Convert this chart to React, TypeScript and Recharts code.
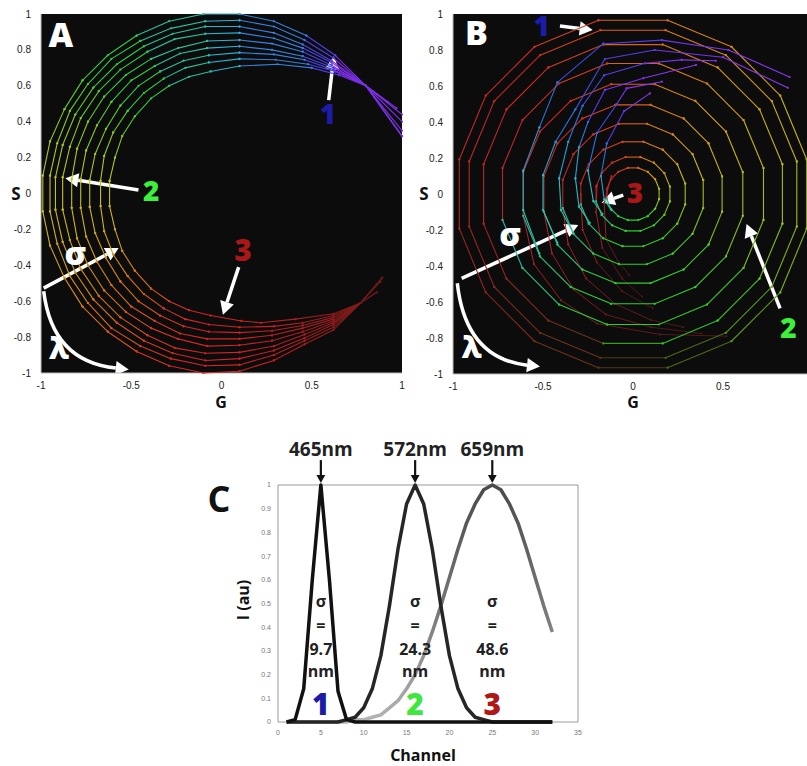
import React from "react";
import {
  ScatterChart,
  Scatter,
  LineChart,
  Line,
  XAxis,
  YAxis,
  CartesianGrid,
  ReferenceLine,
  ReferenceDot,
  ReferenceArea,
} from "recharts";

type Pt = [number, number];

const SANS = "'Open Sans', 'DejaVu Sans', sans-serif";
const TICK_FONT = "'Liberation Sans', Arial, sans-serif";

// ---------- Panel A: phasor (G, S) of each sigma as lambda sweeps; outer ring = narrowest ----------
const ringA1: Pt[] = [
  [0.92, 0.51], [0.8, 0.6], [0.63, 0.77], [0.47, 0.88], [0.29, 0.96], [0.1, 1.0],
  [-0.1, 1.0], [-0.29, 0.96], [-0.47, 0.88], [-0.63, 0.77], [-0.77, 0.63], [-0.87, 0.47], [-0.95, 0.29], [-0.99, 0.1],
  [-0.99, -0.1], [-0.95, -0.29], [-0.87, -0.47], [-0.77, -0.63], [-0.63, -0.77], [-0.47, -0.88], [-0.29, -0.96], [-0.1, -1.0],
  [0.1, -0.99], [0.29, -0.93], [0.46, -0.84], [0.62, -0.76], [0.77, -0.61], [0.86, -0.55],
];
const ringA2: Pt[] = [
  [0.97, 0.475], [0.8, 0.6], [0.62, 0.755], [0.46, 0.855], [0.29, 0.93], [0.1, 0.965],
  [-0.09, 0.96], [-0.28, 0.92], [-0.45, 0.85], [-0.61, 0.75], [-0.74, 0.61], [-0.84, 0.46], [-0.91, 0.28], [-0.95, 0.1],
  [-0.95, -0.1], [-0.91, -0.28], [-0.84, -0.46], [-0.74, -0.61], [-0.61, -0.75], [-0.45, -0.85], [-0.28, -0.92], [-0.09, -0.96],
  [0.1, -0.955], [0.29, -0.9], [0.46, -0.82], [0.62, -0.745], [0.77, -0.61], [0.88, -0.49],
];
const ringA3: Pt[] = [
  [1.0, 0.44], [0.8, 0.6], [0.61, 0.74], [0.45, 0.83], [0.29, 0.895], [0.1, 0.93],
  [-0.09, 0.93], [-0.27, 0.89], [-0.43, 0.82], [-0.58, 0.72], [-0.71, 0.59], [-0.81, 0.44], [-0.88, 0.27], [-0.92, 0.09],
  [-0.92, -0.09], [-0.88, -0.27], [-0.81, -0.44], [-0.71, -0.59], [-0.58, -0.72], [-0.43, -0.82], [-0.27, -0.89], [-0.09, -0.93],
  [0.1, -0.92], [0.29, -0.875], [0.46, -0.805], [0.62, -0.73], [0.77, -0.61], [0.89, -0.47],
];
const ringA4: Pt[] = [
  [1.0, 0.4], [0.8, 0.6], [0.61, 0.73], [0.45, 0.81], [0.29, 0.865], [0.1, 0.895],
  [-0.09, 0.89], [-0.26, 0.86], [-0.41, 0.79], [-0.56, 0.69], [-0.68, 0.57], [-0.78, 0.42], [-0.84, 0.26], [-0.88, 0.09],
  [-0.88, -0.09], [-0.84, -0.26], [-0.78, -0.42], [-0.68, -0.57], [-0.56, -0.69], [-0.41, -0.79], [-0.26, -0.86], [-0.09, -0.89],
  [0.1, -0.885], [0.29, -0.85], [0.46, -0.785], [0.62, -0.72], [0.77, -0.61], [0.89, -0.47],
];
const ringA5: Pt[] = [
  [1.0, 0.35], [0.8, 0.6], [0.61, 0.715], [0.45, 0.79], [0.28, 0.835], [0.1, 0.855],
  [-0.08, 0.85], [-0.24, 0.81], [-0.39, 0.75], [-0.53, 0.66], [-0.65, 0.54], [-0.74, 0.4], [-0.8, 0.25], [-0.83, 0.08],
  [-0.83, -0.08], [-0.8, -0.25], [-0.74, -0.4], [-0.65, -0.54], [-0.53, -0.66], [-0.39, -0.75], [-0.24, -0.81], [-0.08, -0.85],
  [0.1, -0.845], [0.28, -0.82], [0.45, -0.77], [0.62, -0.71], [0.77, -0.61], [0.89, -0.47],
];
const ringA6: Pt[] = [
  [1.0, 0.32], [0.8, 0.6], [0.62, 0.7], [0.45, 0.765], [0.28, 0.8], [0.1, 0.82],
  [-0.08, 0.81], [-0.23, 0.78], [-0.37, 0.71], [-0.5, 0.63], [-0.61, 0.51], [-0.69, 0.38], [-0.75, 0.24], [-0.78, 0.08],
  [-0.78, -0.08], [-0.75, -0.24], [-0.69, -0.38], [-0.61, -0.51], [-0.5, -0.63], [-0.37, -0.71], [-0.23, -0.78], [-0.08, -0.81],
  [0.1, -0.81], [0.28, -0.79], [0.45, -0.75], [0.62, -0.7], [0.77, -0.61], [0.89, -0.47],
];
const ringA7: Pt[] = [
  [1.0, 0.32], [0.8, 0.6], [0.62, 0.69], [0.46, 0.745], [0.29, 0.775], [0.1, 0.785],
  [-0.07, 0.77], [-0.21, 0.74], [-0.34, 0.68], [-0.46, 0.6], [-0.56, 0.49], [-0.64, 0.36], [-0.7, 0.22], [-0.73, 0.075],
  [-0.73, -0.075], [-0.7, -0.22], [-0.64, -0.36], [-0.56, -0.49], [-0.46, -0.6], [-0.34, -0.68], [-0.21, -0.74], [-0.07, -0.77],
  [0.1, -0.775], [0.28, -0.765], [0.45, -0.735], [0.62, -0.69], [0.77, -0.61], [0.89, -0.47],
];
const ringA8: Pt[] = [
  [1.0, 0.32], [0.8, 0.6], [0.63, 0.68], [0.48, 0.72], [0.3, 0.745], [0.1, 0.75],
  [-0.07, 0.73], [-0.2, 0.7], [-0.32, 0.64], [-0.43, 0.56], [-0.52, 0.46], [-0.6, 0.34], [-0.65, 0.21], [-0.67, 0.07],
  [-0.67, -0.07], [-0.65, -0.21], [-0.6, -0.34], [-0.52, -0.46], [-0.43, -0.56], [-0.32, -0.64], [-0.2, -0.7], [-0.07, -0.73],
  [0.1, -0.745], [0.29, -0.74], [0.45, -0.72], [0.62, -0.68], [0.77, -0.61], [0.88, -0.49],
];
const ringA9: Pt[] = [
  [1.0, 0.32], [0.8, 0.6], [0.65, 0.66], [0.5, 0.7], [0.31, 0.72], [0.1, 0.71],
  [-0.06, 0.68], [-0.18, 0.65], [-0.29, 0.6], [-0.39, 0.53], [-0.48, 0.43], [-0.55, 0.32], [-0.59, 0.2], [-0.62, 0.07],
  [-0.62, -0.07], [-0.59, -0.2], [-0.55, -0.32], [-0.48, -0.43], [-0.39, -0.53], [-0.29, -0.6], [-0.18, -0.65], [-0.06, -0.68],
  [0.11, -0.71], [0.22, -0.72], [0.41, -0.7], [0.62, -0.67], [0.77, -0.61], [0.86, -0.55],
];
const ringsA = [ringA1, ringA2, ringA3, ringA4, ringA5, ringA6, ringA7, ringA8, ringA9];

// colour of each segment along a ring (blue end -> red end)
const segColorsA = [
  "#7b30e6", "#7b30e6", "#4c42e6", "#3680de", "#3680de", "#2cb4d4", "#2cc09c", "#2cc09c",
  "#34c846", "#34c846", "#5cca2c", "#86ca28", "#acc824", "#c6c420", "#ceb420", "#d2a020",
  "#d68a20", "#d87020", "#d85222", "#d83622", "#d62422", "#d62422", "#c82020", "#b41f1f",
  "#9c1e1e", "#821c1c", "#681a1a",
];

// ---------- Panel B: harmonic-2 phasor, concentric 16-gons plus blue heads and red tails ----------
const ringB1: Pt[] = [[0.965, 0.192], [0.818, 0.547], [0.547, 0.818], [0.192, 0.965], [-0.192, 0.965], [-0.547, 0.818], [-0.818, 0.547], [-0.965, 0.192], [-0.965, -0.192], [-0.818, -0.547], [-0.547, -0.818], [-0.192, -0.965], [0.192, -0.965], [0.547, -0.818], [0.818, -0.547], [0.965, -0.192], [0.965, 0.192]];
const ringB2: Pt[] = [[0.91, 0.181], [0.771, 0.516], [0.516, 0.771], [0.181, 0.91], [-0.181, 0.91], [-0.516, 0.771], [-0.771, 0.516], [-0.91, 0.181], [-0.91, -0.181], [-0.771, -0.516], [-0.516, -0.771], [-0.181, -0.91], [0.181, -0.91], [0.516, -0.771], [0.771, -0.516], [0.91, -0.181], [0.91, 0.181]];
const ringB3: Pt[] = [[0.83, 0.165], [0.703, 0.47], [0.47, 0.703], [0.165, 0.83], [-0.165, 0.83], [-0.47, 0.703], [-0.703, 0.47], [-0.83, 0.165], [-0.83, -0.165], [-0.703, -0.47], [-0.47, -0.703], [-0.165, -0.83], [0.165, -0.83], [0.47, -0.703], [0.703, -0.47], [0.83, -0.165], [0.83, 0.165]];
const ringB4: Pt[] = [[0.725, 0.144], [0.614, 0.411], [0.411, 0.614], [0.144, 0.725], [-0.144, 0.725], [-0.411, 0.614], [-0.614, 0.411], [-0.725, 0.144], [-0.725, -0.144], [-0.614, -0.411], [-0.411, -0.614], [-0.144, -0.725], [0.144, -0.725], [0.411, -0.614], [0.614, -0.411], [0.725, -0.144], [0.725, 0.144]];
const ringB5: Pt[] = [[0.61, 0.121], [0.517, 0.346], [0.346, 0.517], [0.121, 0.61], [-0.121, 0.61], [-0.346, 0.517], [-0.517, 0.346], [-0.61, 0.121], [-0.61, -0.121], [-0.517, -0.346], [-0.346, -0.517], [-0.121, -0.61], [0.121, -0.61], [0.346, -0.517], [0.517, -0.346], [0.61, -0.121], [0.61, 0.121]];
const ringB6: Pt[] = [[0.495, 0.098], [0.42, 0.281], [0.281, 0.42], [0.098, 0.495], [-0.098, 0.495], [-0.281, 0.42], [-0.42, 0.281], [-0.495, 0.098], [-0.495, -0.098], [-0.42, -0.281], [-0.281, -0.42], [-0.098, -0.495], [0.098, -0.495], [0.281, -0.42], [0.42, -0.281], [0.495, -0.098], [0.495, 0.098]];
const ringB7: Pt[] = [[0.39, 0.078], [0.331, 0.221], [0.221, 0.331], [0.078, 0.39], [-0.078, 0.39], [-0.221, 0.331], [-0.331, 0.221], [-0.39, 0.078], [-0.39, -0.078], [-0.331, -0.221], [-0.221, -0.331], [-0.078, -0.39], [0.078, -0.39], [0.221, -0.331], [0.331, -0.221], [0.39, -0.078], [0.39, 0.078]];
const ringB8: Pt[] = [[0.29, 0.058], [0.246, 0.165], [0.165, 0.246], [0.058, 0.29], [-0.058, 0.29], [-0.165, 0.246], [-0.246, 0.165], [-0.29, 0.058], [-0.29, -0.058], [-0.246, -0.165], [-0.165, -0.246], [-0.058, -0.29], [0.058, -0.29], [0.165, -0.246], [0.246, -0.165], [0.29, -0.058], [0.29, 0.058]];
const ringB9: Pt[] = [[0.205, 0.041], [0.174, 0.116], [0.116, 0.174], [0.041, 0.205], [-0.041, 0.205], [-0.116, 0.174], [-0.174, 0.116], [-0.205, 0.041], [-0.205, -0.041], [-0.174, -0.116], [-0.116, -0.174], [-0.041, -0.205], [0.041, -0.205], [0.116, -0.174], [0.174, -0.116], [0.205, -0.041], [0.205, 0.041]];
const ringB10: Pt[] = [[0.145, 0.029], [0.123, 0.082], [0.082, 0.123], [0.029, 0.145], [-0.029, 0.145], [-0.082, 0.123], [-0.123, 0.082], [-0.145, 0.029], [-0.145, -0.029], [-0.123, -0.082], [-0.082, -0.123], [-0.029, -0.145], [0.029, -0.145], [0.082, -0.123], [0.123, -0.082], [0.145, -0.029], [0.145, 0.029]];
const ringsB = [ringB1, ringB2, ringB3, ringB4, ringB5, ringB6, ringB7, ringB8, ringB9, ringB10];

const spiralB1: Pt[] = [[0.87, 0.65], [0.53, 0.8], [0.16, 0.855], [-0.165, 0.835], [-0.42, 0.62], [-0.52, 0.37], [-0.61, 0.13], [-0.61, -0.09], [-0.52, -0.33]];
const spiralB2: Pt[] = [[0.86, 0.59], [0.5, 0.76], [0.12, 0.8], [-0.156, 0.75], [-0.32, 0.47], [-0.43, 0.29], [-0.5, 0.105], [-0.5, -0.09], [-0.42, -0.27]];
const spiralB3: Pt[] = [[0.46, 0.74], [0.27, 0.745], [0.067, 0.726], [-0.16, 0.66], [-0.28, 0.49], [-0.36, 0.29], [-0.41, 0.087], [-0.4, -0.09], [-0.33, -0.22]];
const spiralB4: Pt[] = [[0.35, 0.717], [0.057, 0.643], [-0.156, 0.578], [-0.25, 0.4], [-0.3, 0.26], [-0.32, 0.087], [-0.3, -0.07], [-0.24, -0.16]];
const spiralB5: Pt[] = [[0.16, 0.624], [-0.035, 0.587], [-0.09, 0.5], [-0.2, 0.34], [-0.25, 0.13], [-0.22, -0.04], [-0.17, -0.11]];
const spiralB6: Pt[] = [[0.094, 0.559], [-0.05, 0.46], [-0.146, 0.28], [-0.178, 0.1], [-0.16, -0.03], [-0.12, -0.09]];
const spiralsB = [spiralB1, spiralB2, spiralB3, spiralB4, spiralB5, spiralB6];

const tailB1: Pt[] = [[-0.12, 0.1], [-0.16, -0.05], [-0.15, -0.25], [-0.08, -0.38], [-0.02, -0.45]];
const tailB2: Pt[] = [[-0.2, 0.05], [-0.205, -0.1], [-0.17, -0.3], [-0.06, -0.47], [0.05, -0.57]];
const tailB3: Pt[] = [[-0.29, 0.0], [-0.28, -0.2], [-0.2, -0.38], [-0.06, -0.54], [0.11, -0.635]];
const tailB4: Pt[] = [[-0.39, -0.08], [-0.36, -0.28], [-0.26, -0.47], [-0.1, -0.61], [0.1, -0.7], [0.28, -0.74]];
const tailB5: Pt[] = [[-0.495, -0.1], [-0.45, -0.33], [-0.33, -0.53], [-0.15, -0.67], [0.1, -0.74], [0.38, -0.775]];
const tailB6: Pt[] = [[-0.61, -0.12], [-0.55, -0.39], [-0.4, -0.59], [-0.2, -0.72], [0.15, -0.78], [0.52, -0.79]];
const tailsB = [tailB1, tailB2, tailB3, tailB4, tailB5, tailB6];

const ringColorsBOuter = ["#c9b31e", "#d39a1e", "#d8801c", "#d6621c", "#d0401f", "#c82a26", "#c02828", "#b42828", "#962620", "#7e2a1c", "#6a3418", "#4e3a14", "#4c6a18", "#5a9a1e", "#7cb422", "#a8b820"];
const ringColorsBMid = ["#c9b31e", "#d39a1e", "#d8801c", "#d6621c", "#d0401f", "#c82a26", "#c02828", "#b42828", "#962620", "#7e2a1c", "#6a3418", "#3a9a22", "#30c030", "#44c82a", "#7cc024", "#a8bc20"];
const ringColorsBInner = ["#c9b31e", "#d39a1e", "#d8801c", "#d6621c", "#d0401f", "#c82a26", "#c02828", "#b42828", "#2cb8a8", "#30c474", "#30cc3c", "#30cc30", "#30cc30", "#44c82a", "#7cc024", "#a8bc20"];
const spiralColors = ["#8a36ee", "#7434ee", "#5a3ce8", "#3a4ee2", "#2a76da", "#2aa0d4", "#2abcc4", "#2cc69c"];
const tailColors = ["#b42626", "#962222", "#7a1e1e", "#621a1a", "#521717"];

// ---------- Panel C: normalised intensity per channel ----------
const channels = Array.from({ length: 32 }, (_, i) => i + 1);
const intensity465 = [0, 0.01, 0.14, 0.6, 1, 0.6, 0.13, 0.01, 0, 0, 0, 0, 0, 0, 0, 0, 0, 0, 0, 0, 0, 0, 0, 0, 0, 0, 0, 0, 0, 0, 0, 0];
const intensity572 = [0, 0, 0, 0, 0, 0, 0, 0.01, 0.02, 0.06, 0.14, 0.28, 0.49, 0.73, 0.92, 1, 0.92, 0.73, 0.49, 0.28, 0.14, 0.06, 0.02, 0.01, 0, 0, 0, 0, 0, 0, 0, 0];
const intensity659 = [0, 0, 0, 0, 0, 0, 0, 0, 0.01, 0.01, 0.02, 0.03, 0.06, 0.09, 0.14, 0.2, 0.28, 0.38, 0.49, 0.61, 0.73, 0.84, 0.92, 0.98, 1, 0.98, 0.92, 0.84, 0.73, 0.61, 0.49, 0.38];
const peakChannels = [5, 16, 25];
const peakLabels = ["465nm", "572nm", "659nm"];
const sigmaLabels = ["9.7", "24.3", "48.6"];
const peakNumbers = ["1", "2", "3"];
const peakColors = ["#1c1ca6", "#3ee63e", "#b01818"];

const phasorTicks = [-1, -0.8, -0.6, -0.4, -0.2, 0, 0.2, 0.4, 0.6, 0.8, 1];
const gTicksA = [-1, -0.5, 0, 0.5, 1];
const gTicksB = [-1, -0.5, 0, 0.5];
const channelTicks = [0, 5, 10, 15, 20, 25, 30, 35];
const intensityTicks = [0, 0.1, 0.2, 0.3, 0.4, 0.5, 0.6, 0.7, 0.8, 0.9, 1];

const BLUE = "#1c1ca6";
const GREEN = "#3cf03c";
const RED = "#a81818";

const notesA = [
  { t: "A", g: -0.89, s: 0.89, c: "#fff", f: 34 },
  { t: "1", g: 0.59, s: 0.45, c: BLUE, f: 28 },
  { t: "2", g: -0.39, s: 0.02, c: GREEN, f: 28 },
  { t: "3", g: 0.12, s: -0.31, c: RED, f: 30 },
  { t: "σ", g: -0.81, s: -0.33, c: "#fff", f: 32 },
  { t: "λ", g: -0.9, s: -0.86, c: "#fff", f: 30 },
];
const arrowsA = [
  { from: [0.594, 0.52], to: [0.622, 0.765] },
  { from: [-0.46, 0.02], to: [-0.865, 0.085] },
  { from: [0.095, -0.41], to: [0.008, -0.675] },
  { from: [-0.985, -0.527], to: [-0.57, -0.304] },
];
const curveA = { from: [-0.985, -0.545], to: [-0.514, -0.98] };

const notesB = [
  { t: "B", g: -0.87, s: 0.9, c: "#fff", f: 34 },
  { t: "1", g: -0.507, s: 0.94, c: BLUE, f: 28 },
  { t: "3", g: 0.011, s: 0.013, c: RED, f: 28 },
  { t: "2", g: 0.863, s: -0.737, c: GREEN, f: 28 },
  { t: "σ", g: -0.683, s: -0.219, c: "#fff", f: 32 },
  { t: "λ", g: -0.896, s: -0.848, c: "#fff", f: 30 },
];
const arrowsB = [
  { from: [-0.406, 0.933], to: [-0.224, 0.911] },
  { from: [-0.054, -0.006], to: [-0.174, -0.048] },
  { from: [0.817, -0.635], to: [0.631, -0.167] },
  { from: [-0.952, -0.469], to: [-0.304, -0.172] },
];
const curveB = { from: [-0.976, -0.496], to: [-0.517, -0.959] };

type Run = { color: string; data: { g: number; s: number }[] };

function toRuns(points: Pt[], colorAt: (j: number) => string): Run[] {
  const runs: Run[] = [];
  for (let j = 0; j < points.length - 1; j++) {
    const color = colorAt(j);
    const next = { g: points[j + 1][0], s: points[j + 1][1] };
    const last = runs[runs.length - 1];
    if (last && last.color === color) last.data.push(next);
    else runs.push({ color, data: [{ g: points[j][0], s: points[j][1] }, next] });
  }
  return runs;
}

const dotShape = (color: string, r: number) => (p: any) =>
  p.cx == null ? <g /> : <circle cx={p.cx} cy={p.cy} r={r} fill={color} />;

function renderRuns(runs: Run[], prefix: string, width = 1.1, r = 1.1) {
  return runs.map((run, i) => (
    <Scatter
      key={`${prefix}-${i}`}
      data={run.data}
      fill={run.color}
      line={{ stroke: run.color, strokeWidth: width }}
      shape={dotShape(run.color, r)}
      isAnimationActive={false}
    />
  ));
}

const arrowShape = (color: string, width: number, head: number) => (p: any) => {
  const { x1, y1, x2, y2 } = p;
  if (x1 == null) return <g />;
  const a = Math.atan2(y2 - y1, x2 - x1);
  const bx = x2 - head * Math.cos(a);
  const by = y2 - head * Math.sin(a);
  const hw = head * 0.55;
  const px = -Math.sin(a) * hw;
  const py = Math.cos(a) * hw;
  return (
    <g>
      <line x1={x1} y1={y1} x2={bx} y2={by} stroke={color} strokeWidth={width} />
      <polygon points={`${x2},${y2} ${bx + px},${by + py} ${bx - px},${by - py}`} fill={color} />
    </g>
  );
};

const curvedArrowShape = (p: any) => {
  const { x1, y1, x2, y2 } = p;
  if (x1 == null) return <g />;
  const cx = x1 + 0.1 * (x2 - x1);
  const cy = y1 + 0.9 * (y2 - y1);
  const a = Math.atan2(y2 - cy, x2 - cx);
  const head = 13;
  const bx = x2 - head * Math.cos(a);
  const by = y2 - head * Math.sin(a);
  const hw = head * 0.55;
  const px = -Math.sin(a) * hw;
  const py = Math.cos(a) * hw;
  return (
    <g>
      <path d={`M${x1},${y1} Q${cx},${cy} ${bx},${by}`} stroke="#fff" strokeWidth={3.5} fill="none" />
      <polygon points={`${x2},${y2} ${bx + px},${by + py} ${bx - px},${by - py}`} fill="#fff" />
    </g>
  );
};

const textShape = (label: string, color: string, size: number, weight: number = 700) => (p: any) =>
  p.cx == null ? (
    <g />
  ) : (
    <text
      x={p.cx}
      y={p.cy}
      fill={color}
      fontSize={size}
      fontWeight={weight}
      fontFamily={SANS}
      textAnchor="middle"
      dominantBaseline="central"
    >
      {label}
    </text>
  );

const Title = ({ x, y, children, size = 17, rotate = 0 }: any) => (
  <div
    style={{
      position: "absolute",
      left: x,
      top: y,
      transform: `translate(-50%, -50%) rotate(${rotate}deg)`,
      fontSize: size,
      fontWeight: 700,
      fontFamily: SANS,
      color: "#111",
      whiteSpace: "nowrap",
      lineHeight: 1,
    }}
  >
    {children}
  </div>
);

const phasorTick = { fontSize: 10, fill: "#222", fontFamily: TICK_FONT };

function PanelA() {
  const runs = ringsA.flatMap((ring) => toRuns(ring, (j) => segColorsA[j]));
  return (
    <ScatterChart width={407} height={394} margin={{ top: 14, right: 5, bottom: 0, left: 11 }}>
      <CartesianGrid fill="#0c0c0c" horizontal={false} vertical={false} />
      <XAxis type="number" dataKey="g" domain={[-1, 1]} ticks={gTicksA} interval={0} tickLine={false}
        axisLine={{ stroke: "#bbb" }} tick={phasorTick} tickMargin={3} height={21} />
      <YAxis type="number" dataKey="s" domain={[-1, 1]} ticks={phasorTicks} interval={0} tickLine={false}
        axisLine={{ stroke: "#bbb" }} tick={phasorTick} tickMargin={4} width={30} />
      {renderRuns(runs, "a")}
      {arrowsA.map((a, i) => (
        <ReferenceLine key={`aa${i}`} segment={[{ x: a.from[0], y: a.from[1] }, { x: a.to[0], y: a.to[1] }]}
          shape={arrowShape("#fff", 3.5, 13)} ifOverflow="visible" />
      ))}
      <ReferenceLine segment={[{ x: curveA.from[0], y: curveA.from[1] }, { x: curveA.to[0], y: curveA.to[1] }]}
        shape={curvedArrowShape} ifOverflow="visible" />
      {notesA.map((n, i) => (
        <ReferenceDot key={`na${i}`} x={n.g} y={n.s} r={0} shape={textShape(n.t, n.c, n.f, 800)} ifOverflow="visible" />
      ))}
    </ScatterChart>
  );
}

function PanelB() {
  const ringRuns = ringsB.flatMap((ring, i) => {
    const pal = i <= 1 ? ringColorsBOuter : i === 2 ? ringColorsBMid : ringColorsBInner;
    return toRuns(ring, (j) => pal[j]);
  });
  const spiralRuns = spiralsB.flatMap((sp) =>
    toRuns(sp, (j) => spiralColors[Math.round((j * (spiralColors.length - 1)) / Math.max(1, sp.length - 2))])
  );
  const tailRuns = tailsB.flatMap((t) =>
    toRuns(t, (j) => tailColors[Math.round((j * (tailColors.length - 1)) / Math.max(1, t.length - 2))])
  );
  return (
    <ScatterChart width={413} height={395} margin={{ top: 14, right: 0, bottom: 0, left: 17 }}>
      <CartesianGrid fill="#0c0c0c" horizontal={false} vertical={false} />
      <XAxis type="number" dataKey="g" domain={[-1, 1]} ticks={gTicksB} interval={0} tickLine={false}
        axisLine={{ stroke: "#bbb" }} tick={phasorTick} tickMargin={3} height={21} />
      <YAxis type="number" dataKey="s" domain={[-1, 1]} ticks={phasorTicks} interval={0} tickLine={false}
        axisLine={{ stroke: "#bbb" }} tick={phasorTick} tickMargin={4} width={36} />
      {renderRuns(tailRuns, "t", 1, 1)}
      {renderRuns(ringRuns, "r", 1.1, 1.1)}
      {renderRuns(spiralRuns, "s", 1.1, 1.1)}
      {arrowsB.map((a, i) => (
        <ReferenceLine key={`ab${i}`} segment={[{ x: a.from[0], y: a.from[1] }, { x: a.to[0], y: a.to[1] }]}
          shape={arrowShape("#fff", 3.5, 13)} ifOverflow="visible" />
      ))}
      <ReferenceLine segment={[{ x: curveB.from[0], y: curveB.from[1] }, { x: curveB.to[0], y: curveB.to[1] }]}
        shape={curvedArrowShape} ifOverflow="visible" />
      {notesB.map((n, i) => (
        <ReferenceDot key={`nb${i}`} x={n.g} y={n.s} r={0} shape={textShape(n.t, n.c, n.f, 800)} ifOverflow="visible" />
      ))}
    </ScatterChart>
  );
}

function PanelC() {
  const rows = channels.map((ch, i) => ({
    ch,
    i465: intensity465[i],
    i572: intensity572[i],
    i659: intensity659[i],
  }));
  const tinyTick = { fontSize: 7, fill: "#777", fontFamily: TICK_FONT };
  return (
    <LineChart width={400} height={346} data={rows} margin={{ top: 65, right: 22, bottom: 30, left: 58 }}>
      <defs>
        <linearGradient id="gray659" x1="0" y1="0" x2="0" y2="1">
          <stop offset="0%" stopColor="#4a4a4a" />
          <stop offset="55%" stopColor="#7a7a7a" />
          <stop offset="100%" stopColor="#b4b4b4" />
        </linearGradient>
      </defs>
      <XAxis type="number" dataKey="ch" domain={[0, 35]} ticks={channelTicks} interval={0} tickLine={false}
        axisLine={false} tick={tinyTick} tickMargin={2} height={14} />
      <YAxis type="number" domain={[0, 1]} ticks={intensityTicks} interval={0} tickLine={false}
        axisLine={false} tick={tinyTick} tickMargin={1} width={20} />
      <ReferenceArea x1={0} x2={35} y1={0} y2={1} fill="none" stroke="#9a9a9a" strokeWidth={1} />
      <Line type="linear" dataKey="i659" stroke="url(#gray659)" strokeWidth={3.5} dot={false} isAnimationActive={false} strokeLinejoin="round" />
      <Line type="linear" dataKey="i572" stroke="#262626" strokeWidth={3.5} dot={false} isAnimationActive={false} strokeLinejoin="round" />
      <Line type="linear" dataKey="i465" stroke="#111" strokeWidth={3.5} dot={false} isAnimationActive={false} strokeLinejoin="round" />
      {peakChannels.map((ch, i) => (
        <React.Fragment key={`pk${i}`}>
          <ReferenceDot x={ch} y={1.15} r={0} ifOverflow="visible" shape={textShape(peakLabels[i], "#222", 19, 700)} />
          <ReferenceLine segment={[{ x: ch, y: 1.105 }, { x: ch, y: 1.008 }]} ifOverflow="visible"
            shape={arrowShape("#111", 2.2, 8)} />
          <ReferenceDot x={ch} y={0.51} r={0} ifOverflow="visible" shape={textShape("σ", "#222", 16, 700)} />
          <ReferenceDot x={ch} y={0.41} r={0} ifOverflow="visible" shape={textShape("=", "#222", 16, 700)} />
          <ReferenceDot x={ch} y={0.31} r={0} ifOverflow="visible" shape={textShape(sigmaLabels[i], "#222", 16, 700)} />
          <ReferenceDot x={ch} y={0.215} r={0} ifOverflow="visible" shape={textShape("nm", "#222", 16, 700)} />
          <ReferenceDot x={ch} y={0.08} r={0} ifOverflow="visible" shape={textShape(peakNumbers[i], peakColors[i], 30, 800)} />
        </React.Fragment>
      ))}
    </LineChart>
  );
}

export default function App() {
  return (
    <div
      style={{
        position: "absolute",
        left: 0,
        top: 0,
        width: 807,
        height: 766,
        overflow: "hidden",
        background: "#fff",
      }}
    >
      <div style={{ position: "absolute", left: 0, top: 0 }}>
        <PanelA />
      </div>
      <div style={{ position: "absolute", left: 400, top: 0 }}>
        <PanelB />
      </div>
      <div style={{ position: "absolute", left: 200, top: 420 }}>
        <PanelC />
      </div>
      <Title x={16} y={193}>S</Title>
      <Title x={221} y={402} size={16}>G</Title>
      <Title x={424} y={193}>S</Title>
      <Title x={633} y={402} size={16}>G</Title>
      <Title x={219} y={499} size={36}>C</Title>
      <Title x={243} y={600} size={16} rotate={-90}>I (au)</Title>
      <Title x={423} y={755} size={16}>Channel</Title>
    </div>
  );
}
